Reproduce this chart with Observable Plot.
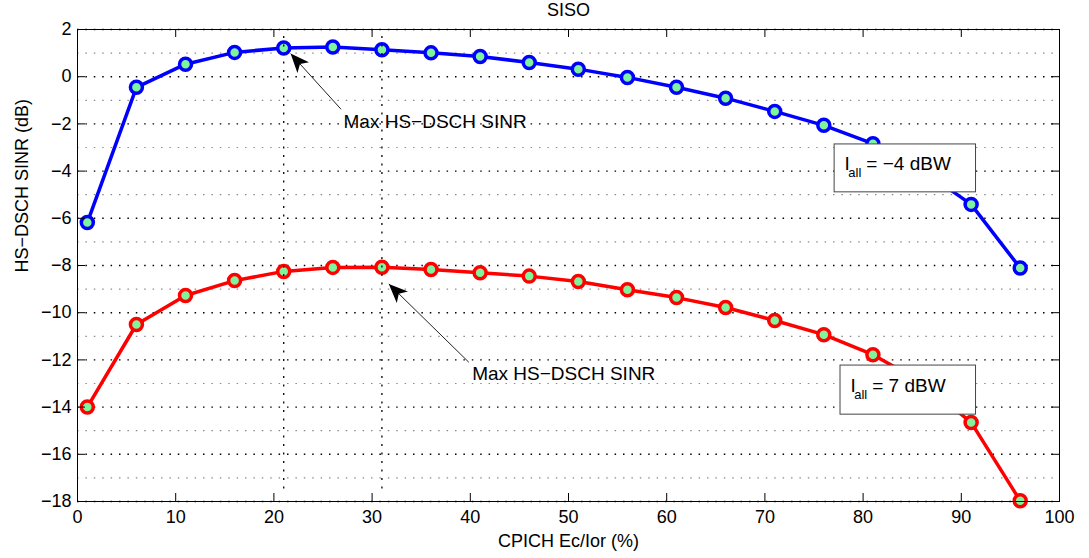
<!DOCTYPE html>
<html>
<head>
<meta charset="utf-8">
<script src="https://cdn.jsdelivr.net/npm/d3@7"></script>
<script src="https://cdn.jsdelivr.net/npm/@observablehq/plot@0.6"></script>
<style>
  html, body { margin: 0; padding: 0; background: #fff; }
  #chart svg { display: block; }
</style>
</head>
<body>
<div id="chart"></div>
<script>
// ---- data ----
const cpich = [1, 6, 11, 16, 21, 26, 31, 36, 41, 46, 51, 56, 61, 66, 71, 76, 81, 86, 91, 96];
const sinrIallMinus4 = [-6.18, -0.45, 0.53, 1.03, 1.22, 1.26, 1.14, 1.01, 0.86, 0.60, 0.32, -0.03, -0.45, -0.91, -1.47, -2.06, -2.84, -3.95, -5.41, -8.11];
const sinrIall7 = [-14.0, -10.5, -9.27, -8.64, -8.25, -8.08, -8.07, -8.17, -8.31, -8.45, -8.68, -9.03, -9.36, -9.78, -10.33, -10.93, -11.78, -12.95, -14.65, -17.97];
const xTicks = [0, 10, 20, 30, 40, 50, 60, 70, 80, 90, 100];
const yTicks = [-18, -16, -14, -12, -10, -8, -6, -4, -2, 0, 2];
const yMinorTicks = [-17, -15, -13, -11, -9, -7, -5, -3, -1, 1];
const maxCpich = [21, 31];
const maxLineTop = 1.7, maxLineBottom = -17.7;
const arrowTailX = [26.84, 39.85];
const arrowTailY = [-1.38, -12.1];
const arrowTipX = [21.7, 31.7];
const arrowTipY = [0.98, -8.78];
const arrowText = ["Max HS\u2212DSCH SINR", "Max HS\u2212DSCH SINR"];
const arrowTextX = [27.09, 40.19];
const arrowTextY = [-1.91, -12.59];
const legendValue = ["= \u22124 dBW", "= 7 dBW"];
const legendX1 = [77.1, 77.7];
const legendX2 = [91.5, 91.5];
const legendY1 = [-2.87, -12.24];
const legendY2 = [-4.90, -14.32];
const titleText = "SISO";
const xLabel = "CPICH Ec/Ior (%)";
const yLabel = "HS\u2212DSCH SINR (dB)";

// ---- tables built from arrays ----
const rows = cpich.map((c, i) => ({c, low: sinrIallMinus4[i], high: sinrIall7[i]}));
const arrows = arrowTailX.map((_, i) => ({x1: arrowTailX[i], y1: arrowTailY[i], x2: arrowTipX[i], y2: arrowTipY[i], text: arrowText[i], tx: arrowTextX[i], ty: arrowTextY[i]}));
const legends = legendValue.map((v, i) => ({v, x1: legendX1[i], x2: legendX2[i], y1: legendY1[i], y2: legendY2[i]}));

const FONT = "'Liberation Sans', Arial, Helvetica, sans-serif";
const W = 1089, H = 558, mL = 77, mR = 30, mT = 29, mB = 57;
const innerW = W - mL - mR, innerH = H - mT - mB;
const TICK = 8;
const green = "#7ef59c";

const chart = Plot.plot({
  width: W, height: H,
  marginLeft: mL, marginRight: mR, marginTop: mT, marginBottom: mB,
  style: {fontFamily: FONT, fontSize: "18px", color: "#000", background: "#fff", overflow: "visible"},
  x: {domain: [0, 100]},
  y: {domain: [-18, 2]},
  marks: [
    // grid
    Plot.ruleY(yMinorTicks, {y: d => d, stroke: "#8a8a8a", strokeWidth: 1.2, strokeDasharray: "1.5,6.9"}),
    Plot.ruleY(yTicks, {y: d => d, stroke: "#000", strokeWidth: 1.4, strokeDasharray: "1.5,6.9"}),
    // series
    Plot.line(rows, {x: "c", y: "low", stroke: "#0000ff", strokeWidth: 3.5}),
    Plot.line(rows, {x: "c", y: "high", stroke: "#ff0000", strokeWidth: 3.5}),
    Plot.dot(rows, {x: "c", y: "low", r: 6, fill: green, stroke: "#0000ff", strokeWidth: 3.5}),
    Plot.dot(rows, {x: "c", y: "high", r: 6, fill: green, stroke: "#ff0000", strokeWidth: 3.5}),
    // max markers
    Plot.ruleX(maxCpich, {x: d => d, y1: maxLineTop, y2: maxLineBottom, stroke: "#000", strokeWidth: 1.3, strokeDasharray: "2,6.5"}),
    // annotation arrows and text
    Plot.link(arrows, {x1: "x1", y1: "y1", x2: "x2", y2: "y2", stroke: "#222", strokeWidth: 1}),
    Plot.text(arrows, {x: "tx", y: "ty", text: "text", textAnchor: "start", lineAnchor: "middle", fontSize: 19, fill: "#000", fontFamily: FONT}),
    // legend boxes
    Plot.rect(legends, {x1: "x1", x2: "x2", y1: "y1", y2: "y2", fill: "#fff", stroke: "#444", strokeWidth: 1}),
    Plot.text(legends, {x: "x1", y: "y1", text: () => "I", textAnchor: "start", lineAnchor: "bottom", dx: 10, dy: 26, fontSize: 19, fontFamily: FONT, fill: "#000"}),
    Plot.text(legends, {x: "x1", y: "y1", text: () => "all", textAnchor: "start", lineAnchor: "bottom", dx: 13.7, dy: 33, fontSize: 13, fontFamily: FONT, fill: "#000"}),
    Plot.text(legends, {x: "x1", y: "y1", text: "v", textAnchor: "start", lineAnchor: "bottom", dx: 31.7, dy: 26, fontSize: 19, fontFamily: FONT, fill: "#000"}),
    // inward ticks
    Plot.tickX(xTicks, {x: d => d, insetTop: innerH - TICK, stroke: "#000"}),
    Plot.tickX(xTicks, {x: d => d, insetBottom: innerH - TICK, stroke: "#000"}),
    Plot.tickY(yTicks, {y: d => d, insetRight: innerW - TICK, stroke: "#000"}),
    Plot.tickY(yTicks, {y: d => d, insetLeft: innerW - TICK, stroke: "#000"}),
    // axes
    Plot.axisX(xTicks, {tickSize: 0, tickPadding: 9, fontSize: 18, label: null, tickFormat: d => String(d).replace("-", "\u2212")}),
    Plot.axisY(yTicks, {tickSize: 0, tickPadding: 6, fontSize: 18, label: null, tickFormat: d => String(d).replace("-", "\u2212")}),
    Plot.frame({stroke: "#000", strokeWidth: 1}),
    // titles
    Plot.text([titleText], {frameAnchor: "top", dy: -19.3, text: d => d, fontSize: 18, lineAnchor: "middle", fontFamily: FONT, fill: "#000"}),
    Plot.text([xLabel], {frameAnchor: "bottom", dy: 39.5, text: d => d, fontSize: 18, lineAnchor: "middle", fontFamily: FONT, fill: "#000"}),
    Plot.text([yLabel], {frameAnchor: "left", dx: -55.5, dy: 7, rotate: -90, text: d => d, fontSize: 18, lineAnchor: "middle", fontFamily: FONT, fill: "#000"})
  ]
});

// filled arrowheads for annotation arrows
const svg = d3.select(chart);
svg.append("defs").append("marker")
  .attr("id", "ahead")
  .attr("viewBox", "0 0 19 16")
  .attr("refX", 19).attr("refY", 8)
  .attr("markerWidth", 19).attr("markerHeight", 16)
  .attr("markerUnits", "userSpaceOnUse")
  .attr("orient", "auto")
  .append("path")
  .attr("d", "M0,0 L19,8 L0,16 L5,8 Z")
  .attr("fill", "#000");
svg.selectAll('g[aria-label="link"] path').attr("marker-end", "url(#ahead)");

document.getElementById("chart").appendChild(chart);
</script>
</body>
</html>
